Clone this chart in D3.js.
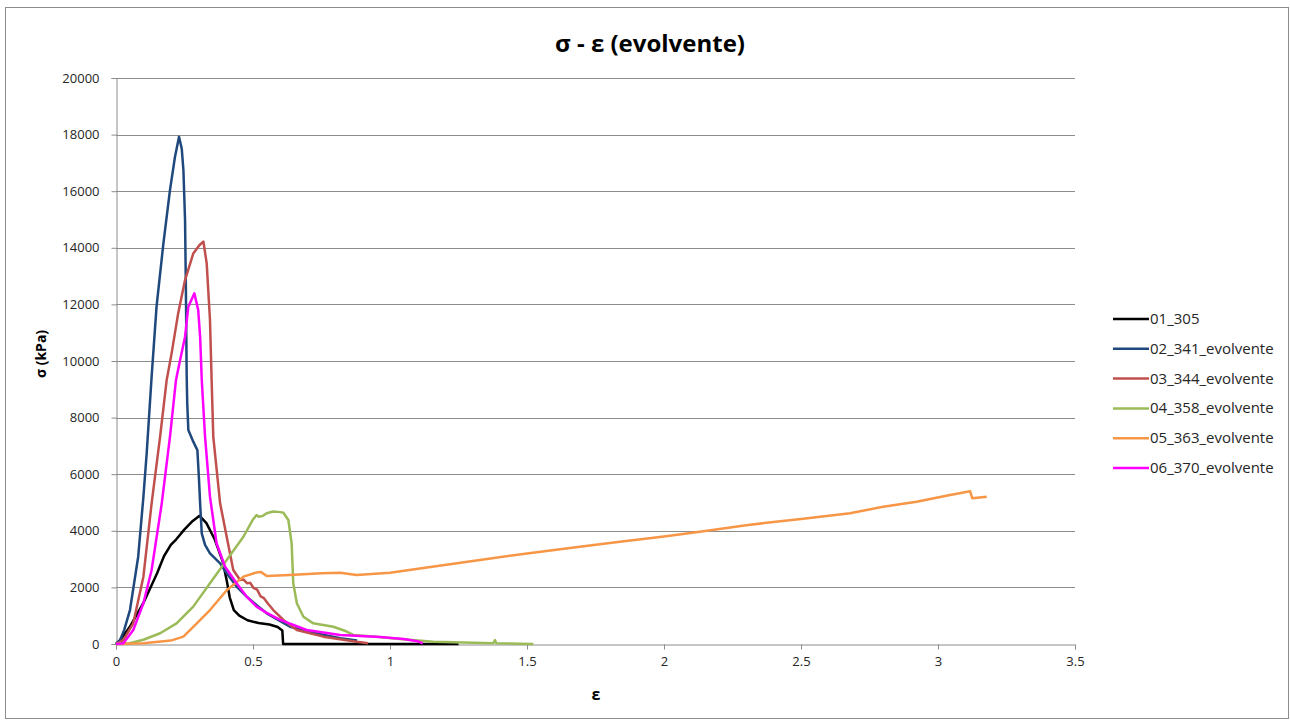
<!DOCTYPE html>
<html>
<head>
<meta charset="utf-8">
<script src="https://cdn.jsdelivr.net/npm/d3@7"></script>
<style>
  body { margin: 0; background: #fff; }
  text { font-family: "Open Sans", "Noto Sans", sans-serif; }
</style>
</head>
<body>
<div id="chart"></div>
<script>
// Series names shown in the legend
var seriesNames = ["01_305", "02_341_evolvente", "03_344_evolvente", "04_358_evolvente", "05_363_evolvente", "06_370_evolvente"];

// [strain ε, stress σ (kPa)]
var s01 = [[0,0],[0.015,140],[0.05,600],[0.1,1450],[0.15,2500],[0.175,3100],[0.2,3500],[0.22,3700],[0.25,4050],[0.28,4350],[0.305,4530],
  [0.33,4270],[0.36,3700],[0.39,2900],[0.405,2200],[0.415,1650],[0.43,1200],[0.45,1000],[0.48,840],[0.52,740],[0.56,690],[0.59,600],
  [0.607,480],[0.61,0],[1.25,0]];
var s02 = [[0,0],[0.015,140],[0.03,500],[0.051,1200],[0.081,3085],[0.1,5200],[0.112,6740],[0.13,9450],[0.148,11920],[0.173,14160],
  [0.197,16040],[0.215,17200],[0.23,17920],[0.24,17500],[0.246,16750],[0.252,14980],[0.255,12630],[0.258,9450],[0.26,8500],[0.264,7560],
  [0.282,7150],[0.297,6850],[0.303,5800],[0.307,4970],[0.313,3910],[0.325,3500],[0.343,3200],[0.38,2850],[0.404,2500],[0.44,2030],
  [0.477,1670],[0.52,1320],[0.55,1085],[0.635,610],[0.72,400],[0.818,200],[0.88,120]];
var s03 = [[0,0],[0.027,140],[0.063,730],[0.1,2380],[0.13,4970],[0.161,7330],[0.185,9330],[0.203,10270],[0.227,11690],[0.252,12860],
  [0.282,13800],[0.305,14100],[0.319,14220],[0.331,13450],[0.343,11450],[0.349,9330],[0.355,7330],[0.38,4970],[0.404,3790],[0.428,2615],
  [0.453,2260],[0.465,2280],[0.478,2150],[0.49,2160],[0.502,1980],[0.515,1920],[0.528,1680],[0.54,1620],[0.555,1420],[0.574,1200],
  [0.611,850],[0.66,495],[0.757,260],[0.878,80],[0.92,30]];
var s04 = [[0,0],[0.05,25],[0.1,150],[0.161,380],[0.221,730],[0.282,1320],[0.343,2145],[0.404,2970],[0.465,3790],[0.5,4400],[0.513,4560],
  [0.52,4500],[0.535,4520],[0.55,4620],[0.574,4680],[0.6,4660],[0.611,4640],[0.629,4380],[0.641,3560],[0.647,2145],[0.66,1440],
  [0.684,965],[0.72,730],[0.793,610],[0.84,450],[0.866,320],[0.95,260],[1.036,180],[1.158,80],[1.377,25],[1.383,140],[1.388,25],[1.523,0]];
var s05 = [[0,0],[0.1,25],[0.2,120],[0.246,260],[0.295,730],[0.343,1200],[0.404,1900],[0.465,2380],[0.513,2530],[0.53,2540],[0.55,2400],
  [0.635,2440],[0.75,2500],[0.818,2520],[0.878,2440],[1.0,2520],[1.109,2670],[1.328,2970],[1.5,3200],[1.693,3440],[1.839,3615],
  [2.0,3800],[2.131,3970],[2.3,4200],[2.5,4420],[2.679,4620],[2.8,4850],[2.922,5030],[3.044,5265],[3.117,5400],[3.125,5150],[3.178,5200]];
var s06 = [[0,0],[0.027,25],[0.063,495],[0.1,1440],[0.13,2615],[0.167,4970],[0.197,7330],[0.219,9330],[0.234,10035],[0.252,10860],
  [0.264,11920],[0.286,12390],[0.3,11800],[0.307,10860],[0.313,9330],[0.325,7330],[0.343,5205],[0.367,3560],[0.398,2730],[0.44,2145],
  [0.477,1670],[0.513,1320],[0.55,1100],[0.599,850],[0.696,495],[0.818,320],[0.964,250],[1.05,180],[1.1,100],[1.12,25]];
var seriesValues = [s01, s02, s03, s04, s05, s06];

// Axis ticks
var xTicks = [0, 0.5, 1, 1.5, 2, 2.5, 3, 3.5];
var yTicks = [0, 2000, 4000, 6000, 8000, 10000, 12000, 14000, 16000, 18000, 20000];

var colors = ["#000000", "#1F497D", "#C0504D", "#9BBB59", "#F79646", "#FF00FF"];

var W = 1290, H = 720;
var plot = { left: 116, top: 78, right: 1075, bottom: 644 };

var svg = d3.select("#chart").append("svg")
    .attr("width", W)
    .attr("height", H);

// outer frame of the chart area
svg.append("rect")
    .attr("x", 5.5).attr("y", 7.5)
    .attr("width", W - 7).attr("height", H - 9)
    .style("fill", "#fff")
    .style("stroke", "#8c8c8c");

var x = d3.scaleLinear().domain([0, 3.5]).range([plot.left, plot.right]);
var y = d3.scaleLinear().domain([0, 20000]).range([plot.bottom, plot.top]);

// horizontal gridlines
svg.append("g")
    .selectAll("line")
    .data(yTicks.slice(1))
    .enter().append("line")
    .attr("x1", plot.left).attr("x2", plot.right)
    .attr("y1", d => Math.round(y(d)) + 0.5).attr("y2", d => Math.round(y(d)) + 0.5)
    .style("stroke", "#8c8c8c");

// y axis
var yAxis = svg.append("g")
    .attr("transform", "translate(" + (plot.left + 0.5) + ",0)")
    .call(d3.axisLeft(y).tickValues(yTicks).tickSize(5).tickPadding(12).tickFormat(d3.format("d")));

// x axis
var xAxis = svg.append("g")
    .attr("transform", "translate(0," + (plot.bottom + 0.5) + ")")
    .call(d3.axisBottom(x).tickValues(xTicks).tickSize(5).tickPadding(7).tickFormat(d => String(d)));

[yAxis, xAxis].forEach(function (a) {
    a.select(".domain").style("stroke", "#8c8c8c");
    a.selectAll(".tick line").style("stroke", "#8c8c8c");
    a.selectAll(".tick text")
        .style("font-family", "'Open Sans', sans-serif")
        .style("font-size", "13px")
        .style("fill", "#262626");
});

// series lines
var line = d3.line()
    .x(d => x(d[0]))
    .y(d => y(d[1]));

svg.append("g")
    .selectAll("path")
    .data(seriesValues)
    .enter().append("path")
    .attr("d", line)
    .style("fill", "none")
    .style("stroke", (d, i) => colors[i])
    .style("stroke-width", 2.5)
    .style("stroke-linejoin", "round");

// title
svg.append("text")
    .attr("x", 650).attr("y", 52)
    .attr("text-anchor", "middle")
    .style("font-size", "24px")
    .style("font-weight", "bold")
    .style("fill", "#000")
    .text("σ - ε (evolvente)");

// axis titles
svg.append("text")
    .attr("transform", "translate(46,354) rotate(-90)")
    .attr("text-anchor", "middle")
    .style("font-size", "14px")
    .style("font-weight", "bold")
    .style("fill", "#000")
    .text("σ (kPa)");

svg.append("text")
    .attr("x", 596).attr("y", 700)
    .attr("text-anchor", "middle")
    .style("font-size", "16px")
    .style("font-weight", "bold")
    .style("fill", "#000")
    .text("ε");

// legend
var legend = svg.append("g")
    .selectAll("g")
    .data(seriesNames)
    .enter().append("g")
    .attr("transform", (d, i) => "translate(1113," + (319 + i * 29.8) + ")");

legend.append("line")
    .attr("x1", 0).attr("x2", 36)
    .style("stroke", (d, i) => colors[i])
    .style("stroke-width", 2.5);

legend.append("text")
    .attr("x", 37).attr("y", 5)
    .style("font-size", "15px")
    .style("fill", "#262626")
    .text(d => d);
</script>
</body>
</html>
